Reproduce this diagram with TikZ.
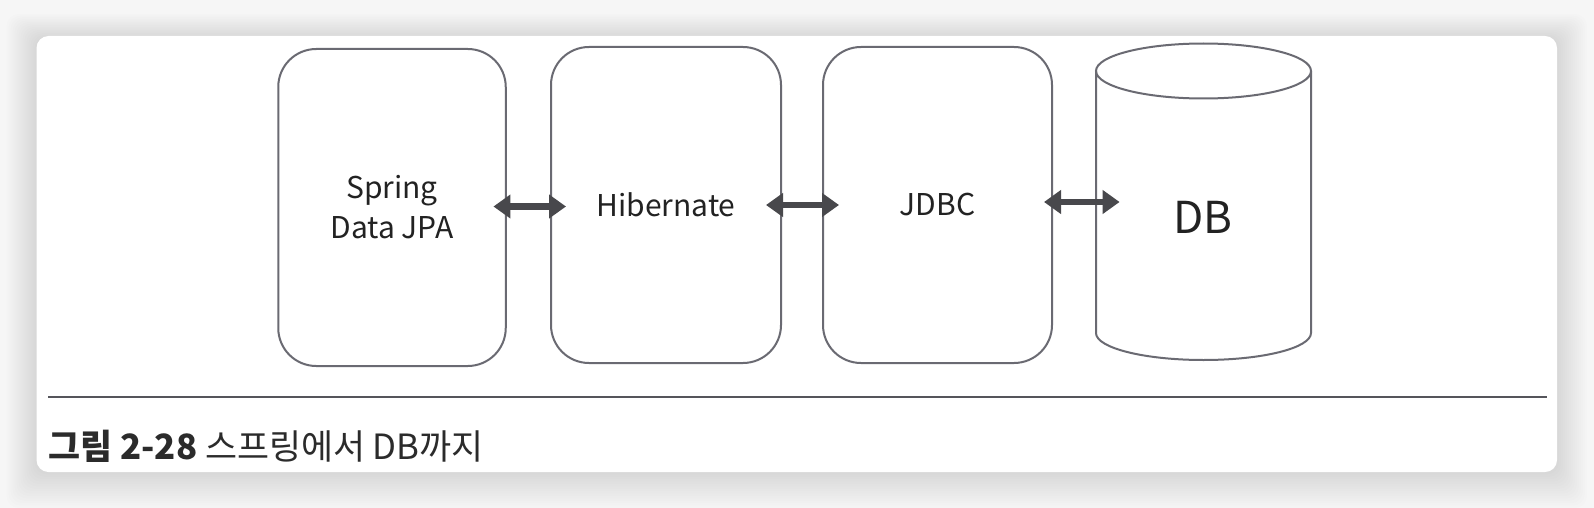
\documentclass[tikz,border=0pt]{standalone}
\usepackage{fontspec}
\setmainfont{Noto Sans CJK KR}
\usetikzlibrary{arrows.meta}
\definecolor{bggray}{HTML}{F6F6F6}
\definecolor{edgegray}{HTML}{6A6A72}
\definecolor{arrowgray}{HTML}{48484C}
\definecolor{inkgray}{HTML}{222222}
\begin{document}
\begin{tikzpicture}[x=0.5pt,y=-0.5pt,
  layerbox/.style={draw=edgegray, line width=1pt, rounded corners=19pt, fill=white, inner sep=0pt, align=center, text=inkgray, font=\fontsize{15}{20}\selectfont},
  dbarrow/.style={draw=arrowgray, line width=3.4pt, {Triangle[width=11.5pt,length=8.5pt]}-{Triangle[width=11.5pt,length=8.5pt]}},
  cylline/.style={draw=edgegray, line width=1pt}]
\fill[bggray] (0,0) rectangle (1594,508);
\useasboundingbox (0,0) rectangle (1594,508);
% card shadow
\foreach \i in {1,...,15}{
  \fill[black, opacity=0.009, rounded corners=6pt] (36.5-2*\i, 38-1.6*\i) rectangle (1557+2*\i, 472+2.4*\i);
}
\fill[white, rounded corners=6pt] (36.5,36) rectangle (1557,472);

% layer boxes
\node[layerbox, minimum width=113.75pt, minimum height=158.5pt] (jpa) at (392,207.5) {Spring\\Data JPA};
\node[layerbox, minimum width=115pt, minimum height=158pt] (hib) at (666,205) {Hibernate};
\node[layerbox, minimum width=114.5pt, minimum height=158pt] (jdbc) at (937.5,205) {JDBC};

% database cylinder
\node[minimum width=107.5pt, minimum height=158.25pt, inner sep=0pt] (db) at (1203.5,201.75) {};
\draw[cylline, fill=white] (1096,71) -- (1096,333) arc[start angle=180, end angle=0, x radius=107.5, y radius=27] -- (1311,71);
\draw[cylline] (1203.5,71) ellipse [x radius=107.5, y radius=27.5];
\node[text=inkgray, font=\fontsize{22}{26}\selectfont] (dblabel) at (1203,217) {DB};

% connectors
\coordinate (ya) at (0,206.5);
\coordinate (yb) at (0,205);
\coordinate (yc) at (0,202);
\draw[dbarrow, shorten <=-6.65pt, shorten >=-8pt] (jpa.east |- ya) -- (hib.west |- ya);
\draw[dbarrow, shorten <=-8pt, shorten >=-8.5pt] (hib.east |- yb) -- (jdbc.west |- yb);
\draw[dbarrow, shorten <=-4.5pt, shorten >=-12pt] (jdbc.east |- yc) -- (db.west |- yc);

% caption rule and text
\coordinate (rl) at (48,397);
\coordinate (rr) at (1547,397);
\draw[draw=edgegray!80!black, line width=0.8pt] (rl) -- (rr);
\node[anchor=base west, inner sep=0pt, text=inkgray!90!gray, font=\fontsize{17.4}{22}\selectfont] (cap) at (48,459) {\textbf{그림 2-28} 스프링에서 DB까지};
\end{tikzpicture}
\end{document}
